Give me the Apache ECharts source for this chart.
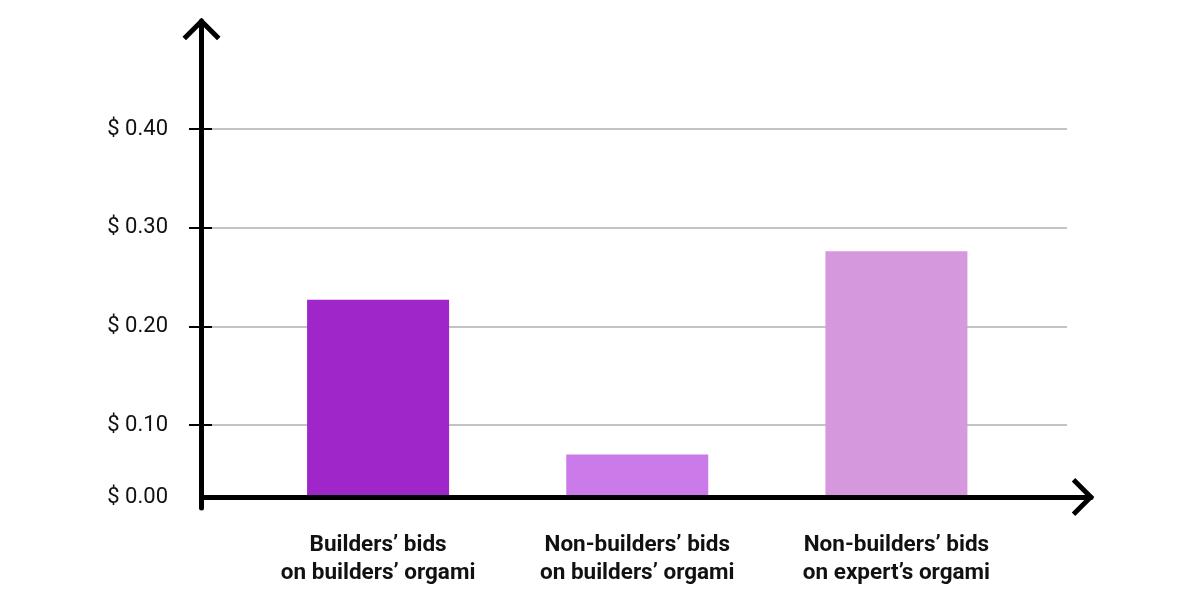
<!DOCTYPE html>
<html>
<head>
<meta charset="utf-8">
<title>Origami bids</title>
<style>
html, body { margin: 0; background: #fff; }
#chart { width: 1200px; height: 600px; }
</style>
</head>
<body>
<div id="chart"></div>
<script src="https://cdn.jsdelivr.net/npm/echarts@6/dist/echarts.min.js"></script>
<script>
var categories = [
  'Builders’ bids\non builders’ orgami',
  'Non-builders’ bids\non builders’ orgami',
  'Non-builders’ bids\non expert’s orgami'
];
var bids = [0.227, 0.07, 0.276];
var barColors = ['#9f27c9', '#cb7ae9', '#d698dc'];
var yTicks = [0.1, 0.2, 0.3, 0.4];
var baseValue = 0.027;   // the drawn x axis sits here, labelled $ 0.00

var chart = echarts.init(document.getElementById('chart'));

// open chevron used for both axis arrows (points up, rotated by echarts)
var chevron = 'path://M19,0 L38,19 L34.5,22.5 L19,7 L3.5,22.5 L0,19 Z';
var font = 'Roboto, "Noto Sans", sans-serif';

var option = {
  animation: false,
  backgroundColor: '#fff',
  grid: [
    // 0: bars
    { left: 248.5, right: 174, top: 129, bottom: 103 },
    // 1: grid lines, ticks, labels
    { left: 212, right: 133, top: 129, bottom: 175 },
    // 2: x axis line with arrow
    { left: 201.5, right: 109, top: 100, bottom: 103 },
    // 3: y axis line with arrow
    { left: 201.5, right: 900, top: 21, bottom: 92 }
  ],
  xAxis: [
    {
      gridIndex: 0, type: 'category', data: categories,
      axisLine: { show: false }, axisTick: { show: false },
      axisLabel: {
        interval: 0, margin: 34, fontSize: 22.5, fontWeight: 'bold',
        lineHeight: 28, color: '#111', fontFamily: font
      }
    },
    { gridIndex: 1, type: 'value', min: 0, max: 1, show: false },
    {
      gridIndex: 2, type: 'value', min: 0, max: 1, z: 5,
      axisLine: {
        show: true, symbol: ['none', chevron], symbolSize: [38, 22.5], symbolOffset: [0, -8],
        lineStyle: { color: '#000', width: 5 }
      },
      axisTick: { show: false }, axisLabel: { show: false }, splitLine: { show: false }
    },
    { gridIndex: 3, type: 'value', min: 0, max: 1, show: false }
  ],
  yAxis: [
    {
      gridIndex: 0, type: 'value', min: baseValue, max: yTicks[yTicks.length - 1],
      axisLine: { show: false }, axisTick: { show: false }, splitLine: { show: false },
      axisLabel: {
        customValues: [baseValue], margin: 80.5, fontSize: 22, color: '#111', fontFamily: font,
        formatter: function () { return '$ 0.00'; }
      }
    },
    {
      gridIndex: 1, type: 'value', min: yTicks[0], max: yTicks[yTicks.length - 1], interval: 0.1,
      axisLine: { show: false },
      axisTick: { show: true, length: 23, lineStyle: { color: '#000', width: 2 } },
      splitLine: { show: true, lineStyle: { color: '#c4c4c4', width: 2 } },
      axisLabel: {
        margin: 44, fontSize: 22, color: '#111', fontFamily: font,
        formatter: function (v) { return '$ ' + v.toFixed(2); }
      }
    },
    { gridIndex: 2, type: 'value', min: 0, max: 1, show: false },
    {
      gridIndex: 3, type: 'value', min: 0, max: 1, z: 5,
      axisLine: {
        show: true, symbol: ['none', chevron], symbolSize: [38, 22.5], symbolOffset: [0, -8],
        lineStyle: { color: '#000', width: 5 }
      },
      axisTick: { show: false }, axisLabel: { show: false }, splitLine: { show: false }
    }
  ],
  series: [
    {
      type: 'bar',
      xAxisIndex: 0, yAxisIndex: 0,
      barWidth: 142,
      clip: true,
      data: bids.map(function (v, i) {
        return { value: v, itemStyle: { color: barColors[i] } };
      })
    }
  ]
};

chart.setOption(option);
</script>
</body>
</html>
